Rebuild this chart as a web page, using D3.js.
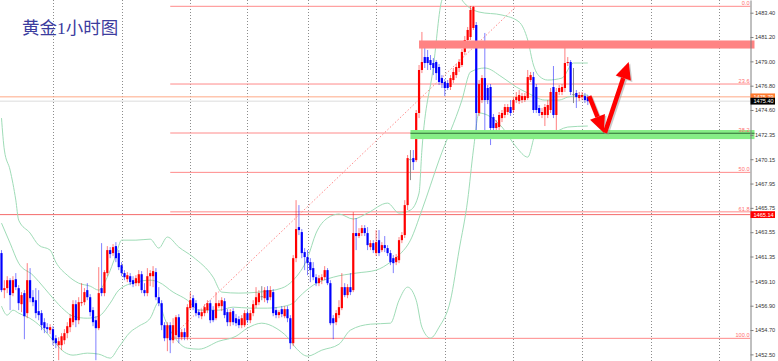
<!DOCTYPE html>
<html>
<head>
<meta charset="utf-8">
<script src="https://cdn.jsdelivr.net/npm/d3@7"></script>
<style>
  html, body { margin: 0; padding: 0; background: #fff; }
  svg { display: block; }
</style>
</head>
<body>
<svg id="chart"></svg>
<script>
const width = 778
const height = 361
const axisX = 750.5

// XAUUSD H1, one row per bar: [open, high, low, close]
const candles = [
  [1461.66,1461.93,1458.13,1458.31],[1458.31,1459.21,1457.58,1458.49],[1458.49,1459.57,1458.04,1459.21],[1459.21,1459.39,1456.50,1457.86],
  [1458.04,1459.57,1457.76,1459.21],[1459.30,1459.85,1458.31,1458.58],[1458.49,1458.76,1456.50,1457.13],[1457.04,1458.13,1456.32,1457.86],
  [1458.04,1458.31,1453.87,1455.95],[1456.23,1460.75,1455.77,1459.21],[1459.21,1460.30,1457.22,1457.58],[1457.67,1458.31,1456.86,1457.22],
  [1457.40,1458.49,1455.77,1456.23],[1456.41,1458.31,1455.59,1456.05],[1456.23,1456.50,1454.69,1455.14],[1455.41,1455.77,1454.42,1454.87],
  [1454.96,1455.32,1454.42,1454.78],[1454.69,1455.23,1454.33,1454.96],[1454.78,1455.05,1453.33,1453.78],[1453.96,1454.24,1453.06,1453.51],
  [1453.33,1454.05,1451.97,1453.69],[1453.33,1454.42,1452.88,1454.14],[1453.78,1454.78,1453.42,1454.42],[1454.42,1455.41,1453.96,1455.05],
  [1454.96,1456.14,1454.51,1455.77],[1455.41,1457.40,1455.14,1457.04],[1457.04,1457.40,1454.96,1455.59],[1455.59,1457.67,1455.23,1457.22],
  [1457.13,1458.94,1456.86,1457.22],[1457.22,1458.49,1456.95,1458.13],[1458.31,1458.94,1457.40,1457.67],[1457.67,1457.95,1455.95,1456.32],
  [1456.50,1456.77,1455.05,1455.41],[1455.59,1455.95,1451.97,1454.87],[1454.87,1460.39,1454.69,1458.04],[1458.49,1462.56,1457.76,1458.04],
  [1458.04,1460.12,1457.76,1459.94],[1459.85,1462.29,1459.57,1461.93],[1461.93,1462.20,1461.20,1461.57],[1461.66,1462.47,1461.39,1462.20],
  [1462.29,1462.65,1460.84,1461.20],[1461.66,1461.93,1460.12,1460.39],[1460.57,1460.84,1459.57,1459.85],[1459.85,1460.12,1459.21,1459.48],
  [1459.30,1459.94,1459.03,1459.66],[1459.57,1459.85,1458.76,1459.03],[1459.21,1459.57,1458.58,1458.85],[1458.94,1459.66,1458.67,1459.39],
  [1458.94,1460.12,1458.67,1459.75],[1459.75,1460.03,1458.04,1458.31],[1458.31,1458.94,1457.76,1458.04],[1458.04,1460.30,1457.76,1459.57],
  [1459.57,1460.12,1458.67,1459.85],[1459.57,1460.48,1458.58,1460.03],[1459.94,1460.30,1457.40,1457.67],[1457.67,1458.58,1456.86,1457.13],
  [1457.13,1457.40,1454.69,1455.14],[1455.14,1455.41,1453.69,1453.96],[1453.96,1455.41,1452.79,1455.14],[1455.14,1455.41,1452.61,1453.78],
  [1453.78,1455.77,1453.51,1455.14],[1454.24,1456.05,1453.96,1455.86],[1455.86,1456.14,1453.51,1454.05],[1454.05,1454.78,1453.78,1454.51],
  [1454.51,1454.87,1453.78,1454.05],[1454.05,1457.04,1453.78,1456.77],[1456.68,1458.13,1456.50,1457.40],[1457.58,1457.86,1456.50,1456.77],
  [1457.13,1457.40,1455.95,1456.23],[1456.32,1456.59,1455.77,1456.05],[1455.95,1456.59,1455.68,1456.32],[1456.23,1457.04,1455.95,1456.77],
  [1456.50,1457.40,1456.23,1457.13],[1457.13,1457.40,1455.32,1455.59],[1456.50,1456.86,1455.41,1455.59],[1455.77,1458.13,1455.59,1457.13],
  [1456.86,1457.40,1456.68,1457.13],[1456.86,1457.67,1456.41,1457.40],[1457.31,1457.58,1455.77,1456.05],[1456.32,1456.59,1455.05,1455.41],
  [1455.41,1456.59,1455.05,1456.32],[1456.41,1456.68,1455.14,1455.41],[1455.77,1456.14,1455.05,1455.32],[1455.68,1455.95,1454.87,1455.14],
  [1455.14,1456.05,1454.87,1455.77],[1455.14,1456.50,1454.96,1456.23],[1456.23,1456.50,1455.32,1455.59],[1455.59,1456.50,1455.32,1456.23],
  [1456.23,1457.40,1455.95,1457.04],[1456.95,1458.58,1456.68,1457.67],[1457.22,1458.31,1456.95,1458.04],[1457.76,1458.67,1457.40,1457.76],
  [1457.58,1458.58,1457.22,1458.31],[1458.31,1458.67,1457.13,1457.40],[1457.67,1458.67,1457.40,1458.31],[1458.13,1458.40,1455.95,1456.23],
  [1456.50,1456.77,1455.77,1456.05],[1456.05,1456.50,1455.77,1456.32],[1456.59,1456.86,1455.86,1456.14],[1455.95,1456.86,1455.77,1456.59],
  [1456.59,1456.86,1455.41,1455.77],[1455.77,1456.05,1452.97,1453.51],[1453.51,1461.48,1453.24,1461.20],[1461.20,1466.45,1460.84,1463.83],
  [1464.01,1466.00,1463.29,1463.74],[1463.56,1463.83,1461.20,1461.66],[1461.75,1462.11,1460.12,1461.30],[1461.30,1461.93,1459.66,1460.75],
  [1460.84,1461.20,1459.03,1460.12],[1460.30,1460.84,1459.21,1459.48],[1459.48,1459.75,1458.67,1458.94],[1458.94,1459.66,1458.67,1459.39],
  [1459.21,1459.75,1458.85,1459.48],[1459.48,1460.48,1459.21,1460.12],[1460.12,1460.30,1458.76,1458.94],[1458.94,1459.21,1455.14,1455.32],
  [1455.77,1456.05,1453.87,1455.32],[1455.41,1456.50,1455.14,1456.23],[1456.05,1457.40,1455.77,1456.77],[1456.68,1459.85,1456.50,1458.58],
  [1458.58,1458.94,1457.67,1457.86],[1457.86,1458.85,1457.58,1458.58],[1458.58,1459.85,1457.86,1458.13],[1458.31,1465.37,1458.13,1463.47],
  [1463.47,1464.83,1461.93,1463.20],[1463.20,1463.92,1463.02,1463.47],[1463.47,1464.19,1463.20,1463.92],[1463.92,1464.19,1463.20,1463.47],
  [1463.47,1464.01,1461.93,1462.38],[1462.20,1462.83,1461.93,1462.56],[1462.56,1462.83,1461.66,1461.93],[1461.66,1463.74,1461.39,1462.65],
  [1462.83,1463.74,1461.39,1461.66],[1461.93,1462.65,1461.75,1462.38],[1462.38,1463.20,1461.75,1462.11],[1462.11,1462.38,1461.39,1461.66],
  [1461.66,1461.93,1460.57,1460.84],[1461.20,1461.48,1459.85,1460.75],[1460.84,1461.57,1460.57,1461.30],[1461.02,1463.11,1460.75,1462.83],
  [1462.83,1463.56,1462.56,1463.29],[1463.29,1466.45,1463.02,1466.00],[1466.00,1470.53,1465.55,1470.25],[1470.16,1470.98,1468.26,1470.16],
  [1470.25,1470.98,1469.17,1469.89],[1470.07,1474.60,1469.89,1474.33],[1474.33,1478.67,1473.87,1478.22],[1478.22,1481.66,1477.94,1478.94],
  [1479.39,1480.21,1478.40,1478.85],[1479.39,1480.03,1478.22,1478.85],[1479.12,1479.57,1478.22,1478.67],[1478.85,1479.30,1477.76,1478.40],
  [1478.94,1479.12,1477.31,1477.94],[1478.49,1478.76,1476.86,1477.13],[1477.49,1477.76,1476.59,1477.04],[1477.13,1477.40,1475.86,1476.59],
  [1477.04,1477.31,1476.41,1476.59],[1476.68,1477.76,1476.41,1477.49],[1477.31,1478.40,1477.04,1478.04],[1477.76,1478.76,1477.49,1478.49],
  [1478.40,1479.21,1478.04,1478.94],[1478.67,1480.12,1478.49,1479.85],[1479.85,1481.29,1479.57,1480.93],[1480.93,1482.11,1480.48,1481.84],
  [1481.20,1484.01,1480.93,1483.65],[1482.02,1484.01,1481.84,1483.92],[1482.29,1482.56,1472.61,1474.33],[1474.33,1477.31,1474.06,1476.95],
  [1475.50,1477.76,1475.23,1477.49],[1477.49,1481.57,1472.61,1475.50],[1476.59,1476.86,1475.14,1475.50],[1476.68,1476.95,1471.43,1472.97],
  [1473.96,1474.24,1472.70,1472.97],[1472.97,1473.69,1472.70,1473.42],[1473.06,1474.42,1472.79,1474.15],[1473.87,1474.60,1473.51,1474.33],
  [1474.15,1475.14,1473.87,1474.87],[1474.42,1475.14,1474.15,1474.87],[1474.87,1475.50,1474.06,1474.33],[1474.60,1475.77,1474.33,1475.50],
  [1475.50,1476.23,1475.23,1475.77],[1475.41,1476.41,1475.14,1475.95],[1475.50,1476.14,1475.23,1475.86],[1475.50,1476.14,1475.32,1475.86],
  [1475.68,1478.22,1475.50,1477.58],[1477.31,1478.04,1477.13,1477.76],[1477.58,1478.04,1474.33,1474.60],[1476.68,1476.95,1474.33,1474.60],
  [1474.78,1475.05,1474.06,1474.33],[1474.15,1474.78,1473.87,1474.42],[1474.15,1475.14,1473.15,1474.87],[1474.15,1475.50,1473.87,1475.05],
  [1474.60,1476.59,1474.33,1476.23],[1476.68,1478.58,1473.87,1474.15],[1474.15,1476.59,1472.79,1476.23],[1476.23,1476.86,1475.95,1476.59],
  [1476.23,1476.95,1475.95,1476.68],[1476.59,1480.21,1476.23,1478.85],[1478.85,1479.39,1478.58,1478.94],[1478.94,1479.12,1475.95,1476.23],
  [1476.05,1478.40,1475.23,1476.05],[1476.14,1476.41,1474.78,1475.77],[1475.68,1476.23,1475.41,1475.95],[1475.77,1476.23,1475.50,1475.95],
  [1475.86,1476.14,1475.23,1475.50],[1475.77,1475.95,1475.05,1475.40]
]

// Bollinger bands: [bar, price]
const bandUpper = [
  [0,1473.87],[1,1470.98],[3,1469.17],[5,1466.45],[6,1464.64],[10,1463.47],[13,1462.38],[17,1461.93],[19,1460.84],
  [23,1459.66],[27,1458.94],[31,1458.67],[34,1458.31],[37,1459.48],[40,1461.48],[42,1462.83],[47,1462.83],[52,1462.92],
  [55,1462.11],[58,1463.11],[62,1462.20],[67,1461.30],[74,1459.48],[77,1458.13],[83,1458.04],[90,1458.13],[98,1458.49],
  [102,1459.21],[107,1461.21],[110,1463.47],[114,1464.83],[118,1465.19],[123,1464.74],[128,1465.28],[135,1466.18],
  [139,1465.28],[143,1465.55],[146,1467.09],[147,1470.98],[151,1478.49],[154,1484.55],[158,1485.91],[161,1484.55],
  [167,1483.46],[175,1483.19],[181,1482.56],[184,1480.93],[186,1478.67],[188,1477.67],[191,1477.31],[196,1477.49],
  [200,1478.85],[205,1478.85]
]
const bandMiddle = [
  [0,1464.37],[3,1462.56],[6,1460.75],[11,1459.66],[15,1458.49],[18,1457.58],[22,1456.50],[25,1455.95],[30,1455.77],
  [34,1455.95],[38,1457.13],[41,1458.31],[47,1459.03],[52,1459.21],[55,1459.03],[60,1458.13],[65,1457.40],[69,1456.50],
  [76,1456.50],[81,1456.77],[87,1456.68],[93,1456.68],[97,1456.77],[102,1457.13],[104,1457.67],[109,1458.76],[116,1459.48],
  [124,1459.85],[131,1460.12],[136,1460.84],[139,1461.48],[143,1462.83],[147,1465.55],[153,1470.07],[161,1475.50],
  [164,1478.04],[169,1478.40],[175,1477.58],[180,1476.68],[184,1476.14],[190,1475.50],[195,1475.50],[198,1475.77],[205,1475.96]
]
const bandLower = [
  [0,1456.86],[2,1456.05],[4,1456.50],[6,1456.23],[11,1455.59],[15,1454.69],[18,1453.78],[22,1452.70],[25,1452.43],
  [30,1452.61],[34,1452.52],[38,1452.16],[41,1453.15],[45,1454.51],[48,1455.05],[52,1455.77],[55,1457.22],[57,1455.77],
  [60,1454.24],[65,1453.06],[69,1452.97],[76,1453.69],[82,1454.14],[86,1454.87],[91,1455.32],[96,1454.87],[100,1454.05],
  [103,1453.06],[107,1452.34],[112,1452.88],[118,1453.42],[122,1454.69],[129,1455.23],[136,1455.32],[139,1457.40],
  [142,1458.58],[145,1457.40],[147,1454.96],[150,1453.97],[153,1454.96],[157,1457.40],[160,1461.93],[163,1466.45],
  [165,1470.98],[167,1474.33],[175,1473.06],[180,1471.25],[184,1470.34],[187,1472.52],[192,1472.52],[198,1473.06],[205,1473.15]
]

// day separators (bar positions)
const gridBars = [18, 42, 66, 86, 107, 131, 155, 179, 203, 227, 251]

// right price scale
const priceTicks = [1483.40, 1481.20, 1479.00, 1476.80, 1474.60, 1472.35, 1470.15, 1467.95,
  1465.75, 1463.55, 1461.35, 1459.10, 1456.90, 1454.70, 1452.50]

// fibonacci retracement, drawn from bar 59 to bar 180
const fibFrom = 59
const fibTo = 180
const fibLow = 1453.95
const fibHigh = 1483.98
const fibLevels = ["0.0", "23.6", "38.2", "50.0", "61.8", "100.0"]
const fibPrices = [1483.98, 1476.95, 1472.52, 1468.96, 1465.39, 1453.95]

// horizontal levels / price tags
const orangeLevel = 1475.79
const bidLevel = 1475.40
const redLevel = 1465.14

// zones: [fromBar, priceTop, priceBottom]
const resistZone = [146, 1480.89, 1480.16]
const supportZone = [143, 1472.79, 1471.97]
const supportLine = 1472.50

// hand drawn arrows: [bar, price] -> [bar, price]
const arrows = [
  [[205.5, 1475.85], [210.6, 1472.55]],
  [[211.0, 1472.55], [219.3, 1478.95]]
]

const title = "黄金1小时图"

const bull = "#ff0000", bear = "#0000ff", doji = "#808080"

const x = d3.scaleLinear([0, 262], [1.5, 750.8])
const y = d3.scaleLinear([1451.9, 1484.55], [height, 0])

const svg = d3.select("#chart").attr("width", width).attr("height", height)
svg.append("rect").attr("width", width).attr("height", height).attr("fill", "#fff")

svg.append("clipPath").attr("id", "plot")
  .append("rect").attr("x", 0).attr("y", 0).attr("width", axisX).attr("height", height)

const plot = svg.append("g").attr("clip-path", "url(#plot)")

// grid
plot.selectAll("line.grid").data(gridBars).join("line")
  .attr("x1", d => Math.round(x(d)) + 0.5).attr("x2", d => Math.round(x(d)) + 0.5)
  .attr("y1", 0).attr("y2", height)
  .attr("stroke", "#8c8c8c").attr("stroke-width", 1).attr("stroke-dasharray", "1,2")

// zones
const zone = (z, color) => {
  svg.append("rect")
    .attr("x", x(z[0])).attr("y", y(z[1]))
    .attr("width", axisX + 4 - x(z[0])).attr("height", y(z[2]) - y(z[1]))
    .attr("fill", color)
}
zone(resistZone, "#ff8383")
zone(supportZone, "#86ee86")

// full width lines
const hline = (p, color, from) => {
  plot.append("line")
    .attr("x1", from).attr("x2", axisX)
    .attr("y1", y(p)).attr("y2", y(p))
    .attr("stroke", color).attr("stroke-width", 1)
}
hline(bidLevel, "#dcdcdc", 0)
hline(orangeLevel, "#ffa985", 0)
hline(redLevel, "#f46a6a", 0)

// fib
fibPrices.forEach((p, i) => {
  hline(p, "#ff8a8a", x(fibFrom))
  svg.append("text")
    .attr("x", axisX - 1).attr("y", y(p) - 1.2)
    .attr("text-anchor", "end")
    .attr("font-family", "Liberation Sans, Arial, sans-serif")
    .attr("font-size", 5.6)
    .attr("fill", "#ff7070")
    .text(fibLevels[i])
})
plot.append("line")
  .attr("x1", x(fibFrom)).attr("y1", y(fibLow))
  .attr("x2", x(fibTo)).attr("y2", y(fibHigh))
  .attr("stroke", "#ff8a8a").attr("stroke-width", 1).attr("stroke-dasharray", "1.5,2")

svg.append("line")
  .attr("x1", x(supportZone[0])).attr("x2", axisX + 4)
  .attr("y1", y(supportLine)).attr("y2", y(supportLine))
  .attr("stroke", "#2f6d36").attr("stroke-width", 1.2)

// bollinger bands
const band = d3.line().x(d => x(d[0])).y(d => y(d[1])).curve(d3.curveMonotoneX)
;[bandUpper, bandMiddle, bandLower].forEach(b => {
  plot.append("path").attr("d", band(b))
    .attr("fill", "none").attr("stroke", "#9fdcb7").attr("stroke-width", 1)
})

// candles
const color = d => d[3] > d[0] ? bull : d[3] < d[0] ? bear : doji
const bars = plot.selectAll("g.bar").data(candles).join("g")
bars.append("line")
  .attr("x1", (d, i) => x(i)).attr("x2", (d, i) => x(i))
  .attr("y1", d => y(d[1])).attr("y2", d => y(d[2]))
  .attr("stroke", color).attr("stroke-width", 1)
  .attr("stroke-opacity", d => d[3] == d[0] ? 0.9 : 0.5)
bars.append("rect")
  .attr("x", (d, i) => x(i) - 1.1).attr("width", 2.2)
  .attr("y", d => y(Math.max(d[0], d[3])))
  .attr("height", d => Math.max(1, Math.abs(y(d[0]) - y(d[3]))))
  .attr("fill", color)

// arrows
const arrow = (a) => {
  const [x0, y0] = [x(a[0][0]), y(a[0][1])]
  const [x1, y1] = [x(a[1][0]), y(a[1][1])]
  const len = Math.hypot(x1 - x0, y1 - y0)
  const ux = (x1 - x0) / len, uy = (y1 - y0) / len
  const head = 17, half = 8
  const bx = x1 - ux * head, by = y1 - uy * head
  const shaft = `M${x0},${y0}L${bx},${by}`
  const tri = `M${x1},${y1}L${bx - uy * half},${by + ux * half}L${bx + uy * half},${by - ux * half}Z`
  const g = svg.append("g")
  g.append("path").attr("d", shaft).attr("transform", "translate(1.5,1.5)")
    .attr("stroke", "#9a9a9a").attr("stroke-opacity", 0.5).attr("stroke-width", 4.5).attr("fill", "none")
  g.append("path").attr("d", tri).attr("transform", "translate(1.5,1.5)")
    .attr("fill", "#9a9a9a").attr("fill-opacity", 0.5)
  g.append("path").attr("d", shaft)
    .attr("stroke", "#ff0000").attr("stroke-width", 4.5).attr("fill", "none")
  g.append("path").attr("d", tri).attr("fill", "#ff0000")
}
arrows.forEach(arrow)

// price axis
const axis = svg.append("g")
  .attr("transform", `translate(${axisX},0)`)
  .call(d3.axisRight(y).tickValues(priceTicks).tickSize(3).tickSizeOuter(0).tickPadding(1.5).tickFormat(d3.format(".2f")))
axis.select(".domain").attr("stroke", "#808080")
axis.selectAll(".tick line").attr("stroke", "#808080")
axis.selectAll(".tick text")
  .attr("font-family", "Liberation Sans, Arial, sans-serif")
  .attr("font-size", 5.6).attr("fill", "#333")

const tag = (p, bg) => {
  svg.append("rect")
    .attr("x", axisX).attr("y", y(p) - 3.4)
    .attr("width", 24.5).attr("height", 6.8)
    .attr("fill", bg)
  svg.append("text")
    .attr("x", axisX + 3).attr("y", y(p) + 2)
    .attr("font-family", "Liberation Sans, Arial, sans-serif")
    .attr("font-size", 5.6).attr("fill", "#fff")
    .text(d3.format(".2f")(p))
}
tag(orangeLevel, "#ff7a2e")
tag(bidLevel, "#000000")
tag(redLevel, "#ff0000")

// title
svg.append("text")
  .attr("x", 22).attr("y", 34)
  .attr("font-family", "Liberation Serif, 'Noto Sans CJK SC', serif")
  .attr("font-size", 17.5)
  .attr("fill", "#3c3c9e")
  .text(title)
</script>
</body>
</html>
